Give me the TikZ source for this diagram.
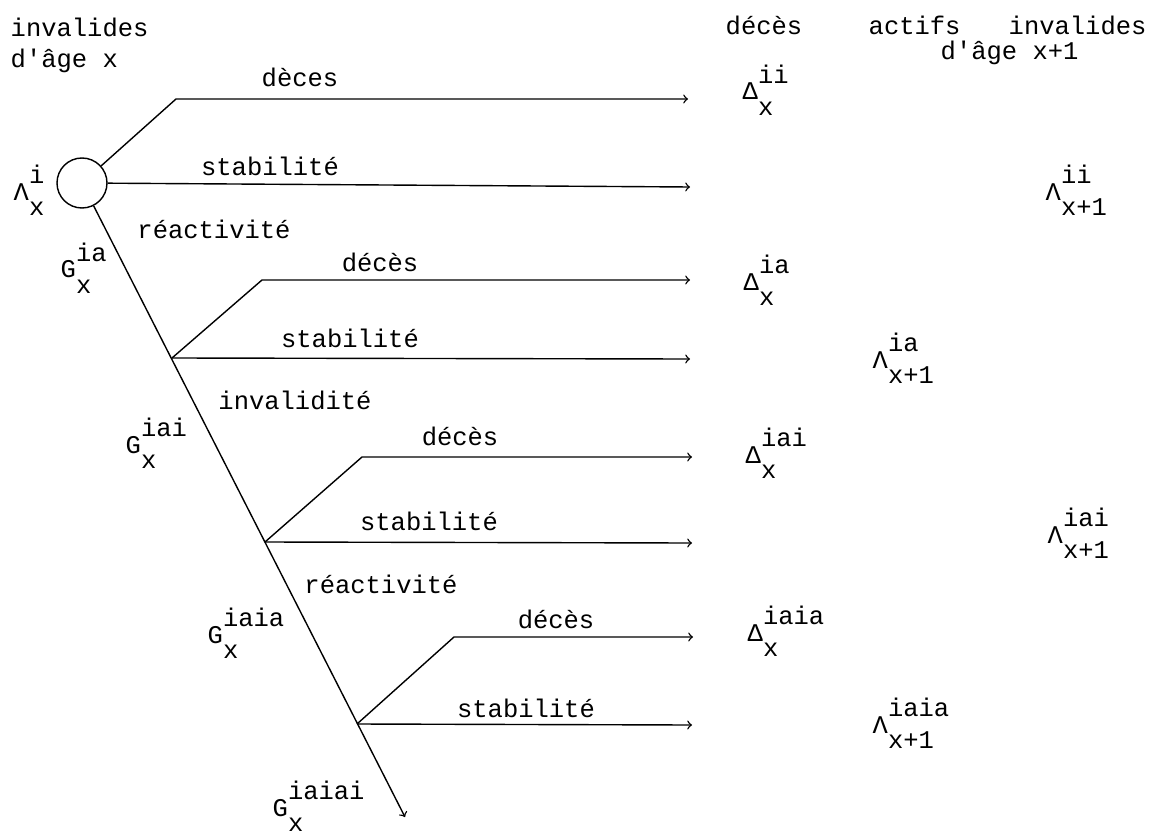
\documentclass[tikz,border=0pt]{standalone}
\usepackage{fontspec}
\setmainfont{Liberation Mono}
\usepackage{tikz}

\newcommand{\nota}[3]{#1\rlap{\raisebox{0.65em}{#2}}\raisebox{-0.6em}{#3}}

\begin{document}
\begin{tikzpicture}[x=0.5pt, y=-0.5pt, line width=0.7pt,
    every node/.style={inner sep=0pt, font=\fontsize{12.75}{15}\selectfont},
    lab/.style={anchor=base},
    sym/.style={anchor=base west}]
        \useasboundingbox (0,0) rectangle (1155,834);

        % Intestazioni
        \node[sym] (hinv) at (10,37) {invalides};
        \node[sym] (hage) at (10,68) {d\textquotesingle{}âge x};
        \node[sym] (hdec) at (725,35) {décès};
        \node[sym] (hact) at (868,35) {actifs};
        \node[sym] (hinv2) at (1008,35) {invalides};
        \node[sym] (hage2) at (940,60) {d\textquotesingle{}âge x+1};

        % Stato iniziale
        \node (circ) at (82,183) [circle, draw, minimum size=25pt] {};
        \node[sym] (Li) at (13,200) {\nota{Λ}{i}{x}};

        % Punti
        \coordinate (b1) at (172,358);
        \coordinate (b2) at (265,542);
        \coordinate (b3) at (357,724);
        \coordinate (gend) at (405,817);
        \coordinate (d0) at (176,99);
        \coordinate (d1) at (262,280);
        \coordinate (d2) at (362,457);
        \coordinate (d3) at (454,637);
        \coordinate (e0) at (688,99);
        \coordinate (e1) at (690,280);
        \coordinate (e2) at (692,457);
        \coordinate (e3) at (693,637);
        \coordinate (s0) at (690,187);
        \coordinate (s1) at (690,359);
        \coordinate (s2) at (692,543);
        \coordinate (s3) at (692,725);

        % Collegamenti
        \draw[->] (circ) -- (gend);
        \draw[->] (circ) -- (d0) -- (e0);
        \draw[->] (circ) -- (s0);
        \draw[->] (b1) -- (d1) -- (e1);
        \draw[->] (b1) -- (s1);
        \draw[->] (b2) -- (d2) -- (e2);
        \draw[->] (b2) -- (s2);
        \draw[->] (b3) -- (d3) -- (e3);
        \draw[->] (b3) -- (s3);

        % Etichette
        \node[lab] (t0) at (300,87) {dèces};
        \node[lab] (u0) at (270,176) {stabilité};
        \node[lab] (r1) at (214,238) {réactivité};
        \node[lab] (t1) at (380,271) {décès};
        \node[lab] (u1) at (350,347) {stabilité};
        \node[lab] (r2) at (295,409) {invalidité};
        \node[lab] (t2) at (460,445) {décès};
        \node[lab] (u2) at (429,530) {stabilité};
        \node[lab] (r3) at (381,593) {réactivité};
        \node[lab] (t3) at (556,628) {décès};
        \node[lab] (u3) at (526,717) {stabilité};

        % Probabilita
        \node[sym] (G1) at (60,278) {\nota{G}{ia}{x}};
        \node[sym] (G2) at (125,453) {\nota{G}{iai}{x}};
        \node[sym] (G3) at (207,643) {\nota{G}{iaia}{x}};
        \node[sym] (G4) at (272,816) {\nota{G}{iaiai}{x}};

        % Risultati
        \node[sym] (D1) at (742,100) {\nota{Δ}{ii}{x}};
        \node[sym] (D2) at (743,290) {\nota{Δ}{ia}{x}};
        \node[sym] (D3) at (745,463) {\nota{Δ}{iai}{x}};
        \node[sym] (D4) at (747,641) {\nota{Δ}{iaia}{x}};
        \node[sym] (L1) at (1045,200) {\nota{Λ}{ii}{x+1}};
        \node[sym] (L2) at (872,368) {\nota{Λ}{ia}{x+1}};
        \node[sym] (L3) at (1047,543) {\nota{Λ}{iai}{x+1}};
        \node[sym] (L4) at (872,733) {\nota{Λ}{iaia}{x+1}};
    \end{tikzpicture}
\end{document}
